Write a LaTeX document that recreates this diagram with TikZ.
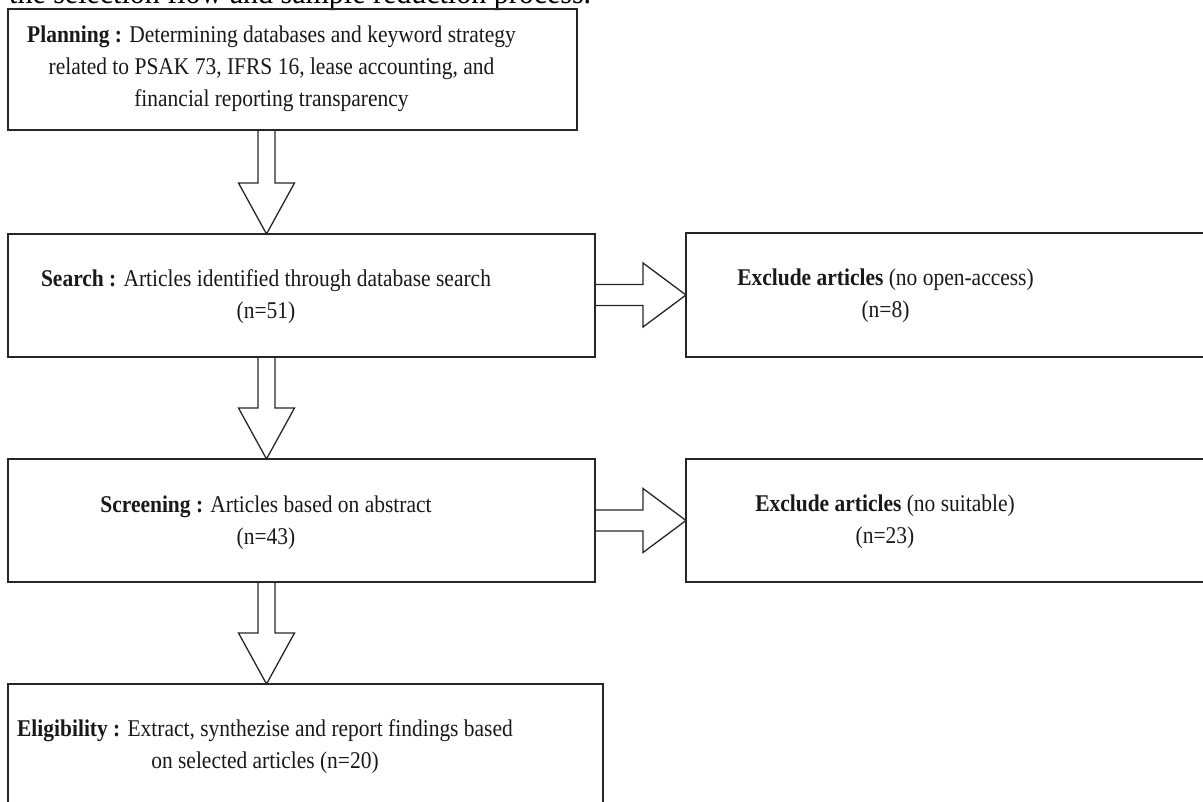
\documentclass[tikz,border=0pt]{standalone}
\usepackage{fontspec}
\setmainfont[FakeStretch=0.895]{Liberation Serif}
\usetikzlibrary{calc}

\begin{document}
\begin{tikzpicture}[x=1pt,y=-1pt]
	\tikzstyle{stage}=[draw=black!85, line width=1.6pt, rectangle, inner sep=0pt, outer sep=0pt];
	\tikzstyle{stage_txt}=[align=center, text=black!90, font=\fontsize{24}{32}\selectfont, inner sep=0pt];
	\tikzstyle{blk_arrow}=[draw=black!85, line width=1.3pt, line join=miter];

	\useasboundingbox (0,0) rectangle (1203,802);
	\clip (0,0) rectangle (1203,802);

	% line of text above the figure, cut off by the page
	\node[anchor=base west, font=\fontsize{33.5}{40}\selectfont, inner sep=0pt] (caption) at (9,4) {the selection flow and sample reduction process.};

	% stages
	\node[stage, minimum width=569pt, minimum height=121pt] (plan) at (292.5,69.5) {};
	\node[stage, minimum width=587pt, minimum height=123pt] (search) at (301.5,295.5) {};
	\node[stage, minimum width=587pt, minimum height=123pt] (screen) at (301.5,520.5) {};
	\node[stage, minimum width=595pt, minimum height=125pt] (elig) at (305.5,746.5) {};
	\node[stage, minimum width=529pt, minimum height=124pt] (excl1) at (950.5,295) {};
	\node[stage, minimum width=529pt, minimum height=123pt] (excl2) at (950.5,520.5) {};

	\node[stage_txt] (plan_t) at (271.5,69) {\textbf{Planning :} Determining databases and keyword strategy\\related to PSAK 73, IFRS 16, lease accounting, and\\financial reporting transparency};
	\node[stage_txt] (search_t) at (266,296.5) {\textbf{Search :} Articles identified through database search\\(n=51)};
	\node[stage_txt] (screen_t) at (266,522.5) {\textbf{Screening :} Articles based on abstract\\(n=43)};
	\node[stage_txt] (elig_t) at (265,746.5) {\textbf{Eligibility :} Extract, synthezise and report findings based\\on selected articles (n=20)};
	\node[stage_txt] (excl1_t) at (885.5,296) {\textbf{Exclude articles} (no open-access)\\(n=8)};
	\node[stage_txt] (excl2_t) at (885,522) {\textbf{Exclude articles} (no suitable)\\(n=23)};

	% block arrows
	\coordinate (axis) at (266.5,0);
	\foreach \a/\b in {plan/search, search/screen, screen/elig}
		\draw[blk_arrow] ($(axis |- \a.south)+(-8.5,0)$) -- ($(axis |- \b.north)+(-8.5,-51)$) -- ($(axis |- \b.north)+(-28,-51)$) -- (axis |- \b.north) -- ($(axis |- \b.north)+(28,-51)$) -- ($(axis |- \b.north)+(8.5,-51)$) -- ($(axis |- \a.south)+(8.5,0)$);

	\foreach \a/\b in {search/excl1, screen/excl2}
		\draw[blk_arrow] ($(\a.east |- \b.west)+(0,-10.5)$) -- ($(\b.west)+(-43,-10.5)$) -- ($(\b.west)+(-43,-32)$) -- (\b.west) -- ($(\b.west)+(-43,32)$) -- ($(\b.west)+(-43,10.5)$) -- ($(\a.east |- \b.west)+(0,10.5)$);

\end{tikzpicture}
\end{document}
